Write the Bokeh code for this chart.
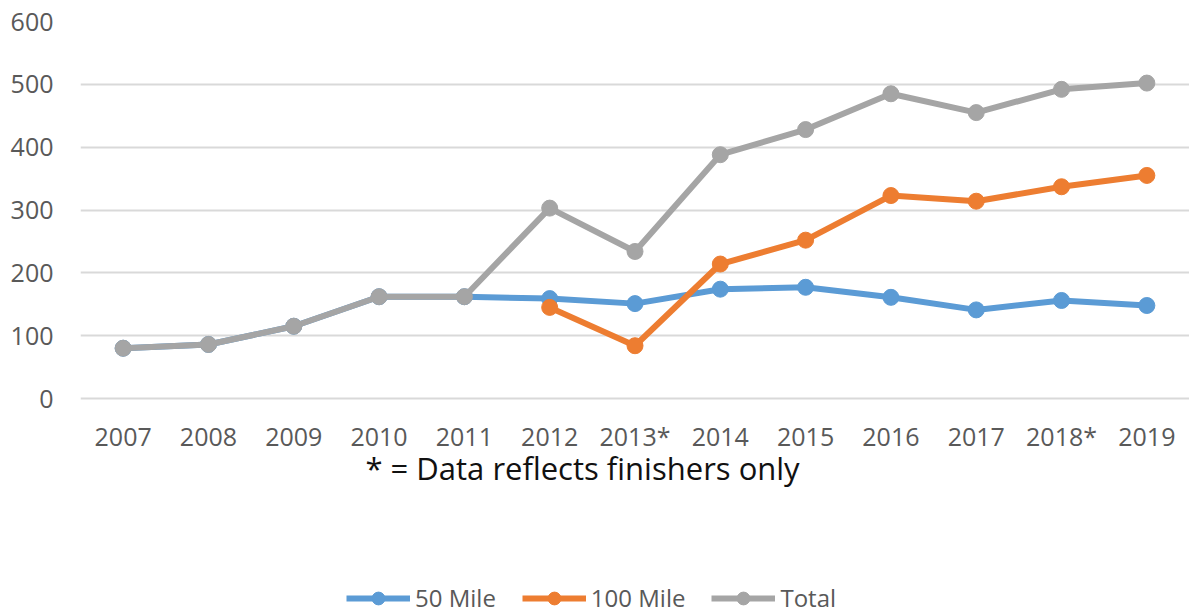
from bokeh.plotting import figure
from bokeh.models import FactorRange, Range1d, Legend, LegendItem, Label, FixedTicker
from bokeh.embed import file_html
from bokeh.resources import INLINE
import numpy as np

years = ["2007", "2008", "2009", "2010", "2011", "2012", "2013*", "2014",
         "2015", "2016", "2017", "2018*", "2019"]
mile50 = [80, 86, 115, 162, 162, 159, 151, 174, 177, 161, 141, 156, 148]
mile100 = [np.nan, np.nan, np.nan, np.nan, np.nan, 145, 84, 214, 252, 323, 314, 337, 355]
total = [80, 86, 115, 162, 162, 303, 234, 388, 428, 485, 455, 492, 502]
y_ticks = [0, 100, 200, 300, 400, 500, 600]
note = "* = Data reflects finishers only"

FONT = "Open Sans"
BLUE, ORANGE, GRAY = "#5B9BD5", "#ED7D31", "#A5A5A5"

W, H = 1189, 614
TOP, LEFT = 21, 80
FRAME_H = H - TOP
PX_PER_UNIT = 377 / 600.0
y_start = 600 - FRAME_H / PX_PER_UNIT

p = figure(x_range=FactorRange(factors=years, range_padding=0),
           y_range=Range1d(y_start, 600),
           width=W, height=H, output_backend="svg", toolbar_location=None,
           min_border_left=LEFT, min_border_right=0, min_border_top=TOP,
           min_border_bottom=0)
p.outline_line_color = None
p.background_fill_color = "white"

p.xgrid.grid_line_color = None
p.ygrid.grid_line_color = "#D9D9D9"
p.ygrid.grid_line_width = 2
p.yaxis.ticker = FixedTicker(ticks=y_ticks)
p.xaxis.fixed_location = 0

for ax in (p.xaxis[0], p.yaxis[0]):
    ax.axis_line_color = None
    ax.major_tick_line_color = None
    ax.minor_tick_line_color = None
    ax.major_tick_out = 0
    ax.major_tick_in = 0
    ax.major_label_text_font = FONT
    ax.major_label_text_color = "#595959"
    ax.major_label_text_font_size = "25px"
p.yaxis.major_label_standoff = 27
p.xaxis.major_label_standoff = 20

items = []
for name, vals, col in (("50 Mile", mile50, BLUE), ("100 Mile", mile100, ORANGE), ("Total", total, GRAY)):
    ln = p.line(years, vals, line_color=col, line_width=6)
    sc = p.scatter(years, vals, size=16, fill_color=col, line_color=col)
    items.append(LegendItem(label=name, renderers=[ln, sc]))

legend = Legend(items=items, orientation="horizontal", location=(266, 0),
                glyph_width=64, glyph_height=32, label_text_font=FONT,
                label_text_font_size="24px", label_text_color="#595959",
                label_standoff=5, spacing=26, padding=0, margin=0,
                border_line_color=None, background_fill_alpha=0)
p.add_layout(legend, "center")

p.add_layout(Label(x=5.885, y=-111, text=note, text_align="center",
                   text_baseline="middle", text_font=FONT, text_font_size="31px",
                   text_color="#111111"))

open("out.html", "w").write(file_html(p, INLINE))
